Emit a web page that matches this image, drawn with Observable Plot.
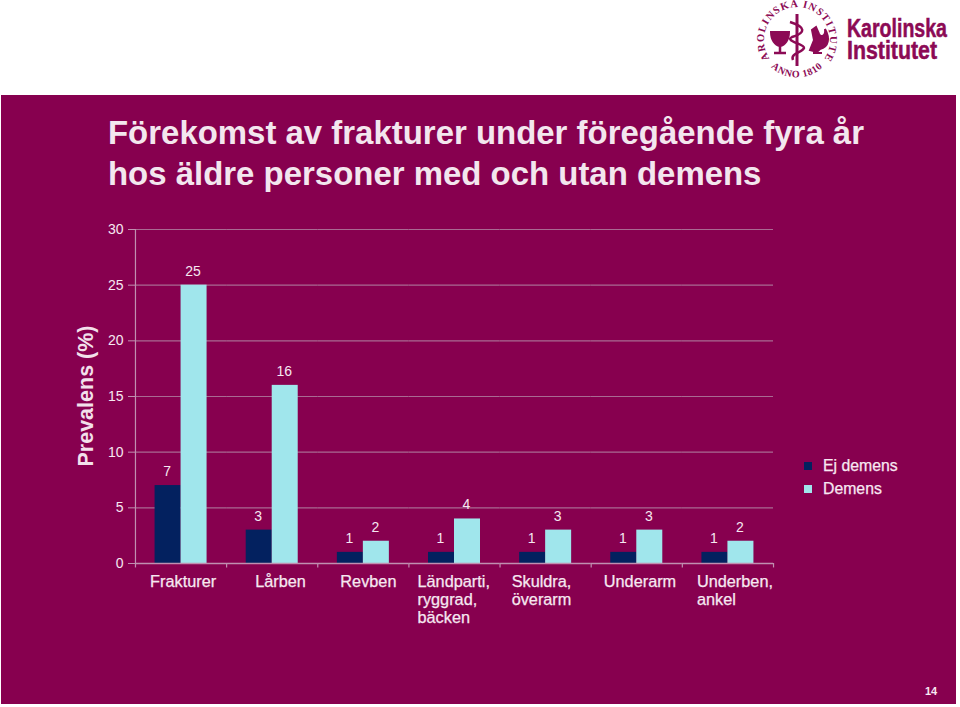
<!DOCTYPE html>
<html lang="sv">
<head>
<meta charset="utf-8">
<script src="https://cdn.jsdelivr.net/npm/d3@7"></script>
<script src="https://cdn.jsdelivr.net/npm/@observablehq/plot@0.6"></script>
<style>
  html, body { margin: 0; padding: 0; background: #fff; width: 960px; height: 707px; overflow: hidden; }
  body { position: relative; font-family: "Liberation Sans", Arial, sans-serif; }
  #panel { position: absolute; left: 1px; top: 95px; width: 955px; height: 609px; background: #87004f; }
  #chart { position: absolute; left: 0; top: 0; }
  #chart svg { background: transparent; display: block; }
  #title { position: absolute; left: 108px; top: 112px; margin: 0; font-size: 32.95px; line-height: 41px; font-weight: 700; color: #f3e6ee; white-space: nowrap; }
  #ylabel { position: absolute; left: 86px; top: 396px; transform: translate(-50%, -50%) rotate(-90deg); font-size: 21.5px; font-weight: 700; color: #f3e0eb; white-space: nowrap; }
  .lg { position: absolute; left: 804px; display: flex; align-items: center; font-size: 15.8px; color: #f8e8f2; -webkit-text-stroke: 0.25px #f8e8f2; }
  .lg i { display: block; width: 8px; height: 8px; margin-right: 11px; }
  #page { position: absolute; left: 925px; top: 685px; font-size: 11px; font-weight: 700; color: #f8e8f2; }
  #logo { position: absolute; left: 750px; top: 0; }
</style>
</head>
<body>
<div id="panel"></div>
<div id="chart"></div>
<h1 id="title">Förekomst av frakturer under föregående fyra år<br>hos äldre personer med och utan demens</h1>
<div id="ylabel">Prevalens (%)</div>
<div class="lg" style="top:457px"><i style="background:#03215f"></i>Ej demens</div>
<div class="lg" style="top:480px"><i style="background:#a0e6ec"></i>Demens</div>
<div id="page">14</div>
<svg id="logo" width="210" height="84" viewBox="750 0 210 84">
  <defs>
    <path id="topArc" d="M 772.4 62 A 33 33 0 1 1 821.6 62"/>
    <path id="botArc" d="M 770 66 A 37.5 37.5 0 0 0 824 66"/>
  </defs>
  <g fill="#8c0a55" font-family="Liberation Serif, serif" font-weight="700">
    <text font-size="10.5" letter-spacing="1.1"><textPath href="#topArc" startOffset="50%" text-anchor="middle">KAROLINSKA INSTITUTET</textPath></text>
    <text font-size="10" letter-spacing="0.6"><textPath href="#botArc" startOffset="50%" text-anchor="middle">ANNO 1810</textPath></text>
  </g>
  <g fill="none" stroke="#8c0a55" stroke-width="2">
    <path d="M797 14 V66" stroke-width="3"/>
    <path d="M790 22 C806 27 806 33 792 37 C784 41 805 44 804 48 C802 53 790 53 793 60" stroke-width="2.5"/>
    <path d="M771 32 H789 C789 40 785 45 780 46 C775 45 771 40 771 32 Z" fill="#8c0a55"/>
    <path d="M780 46 V53 M774 53 H786" stroke-width="2.5"/>
    <path d="M810 50 L814 40 L812 30 L816 27 L819 34 C821 38 826 36 825 29 C830 38 829 47 820 49 L817 52 Z" fill="#8c0a55"/>
    <path d="M813 53 H822" stroke-width="2"/>
  </g>
  <g fill="#8c0a55" stroke="#8c0a55" stroke-width="0.5" font-family="Liberation Sans, sans-serif" font-weight="700">
    <text x="847" y="37" font-size="25" textLength="100" lengthAdjust="spacingAndGlyphs">Karolinska</text>
    <text x="847" y="59" font-size="25" textLength="90" lengthAdjust="spacingAndGlyphs">Institutet</text>
  </g>
</svg>
<script>
const categories = ["Frakturer", "Lårben", "Revben", "Ländparti,\nryggrad,\nbäcken", "Skuldra,\növerarm", "Underarm", "Underben,\nankel"];
const seriesNames = ["Ej demens", "Demens"];
const ejDemens = [7, 3, 1, 1, 1, 1, 1];
const demens = [25, 16, 2, 4, 3, 3, 2];
const yTicks = [0, 5, 10, 15, 20, 25, 30];
const seriesColors = ["#03215f", "#a0e6ec"];

const rows = categories.flatMap((category, i) => [
  {category, series: seriesNames[0], value: ejDemens[i]},
  {category, series: seriesNames[1], value: demens[i]}
]);

const ink = "#f6e8f1";
const gridInk = "#a96a92";
const axisInk = "#c08fb0";
const edgeShift = -32.6;                // bar-centre to band-edge distance
const labelShift = [-18, -4, -10, -24, -21, -20, -18]; // left edge of each category label

const chart = Plot.plot({
  width: 960,
  height: 707,
  marginLeft: 135,
  marginRight: 187,
  marginTop: 229,
  marginBottom: 144,
  style: {background: "transparent", fontFamily: "'Liberation Sans', Arial, sans-serif"},
  fx: {domain: categories, padding: 0, round: false, axis: null},
  x: {domain: seriesNames, paddingInner: 0, paddingOuter: 0.7527, round: false, axis: null},
  y: {domain: [0, 30], axis: null},
  color: {domain: seriesNames, range: seriesColors},
  marks: [
    Plot.ruleY(yTicks.slice(1), {stroke: gridInk, strokeWidth: 1.2}),
    Plot.axisY({
      ticks: yTicks, tickSize: 7, tickPadding: 5, label: null, stroke: axisInk,
      color: ink, fontSize: 14, tickFormat: d => String(d)
    }),
    Plot.ruleX(categories, {
      fx: d => d, x: () => seriesNames[0], dx: edgeShift, y1: 0, y2: -0.4,
      stroke: axisInk, strokeWidth: 1.2
    }),
    Plot.ruleX(categories.slice(-1), {
      fx: d => d, x: () => seriesNames[1], dx: -edgeShift, y1: 0, y2: -0.4,
      stroke: axisInk, strokeWidth: 1.2
    }),
    Plot.ruleX(categories.slice(0, 1), {
      fx: d => d, x: () => seriesNames[0], dx: edgeShift, y1: 0, y2: 30,
      stroke: axisInk, strokeWidth: 1.2
    }),
    Plot.barY(rows, {fx: "category", x: "series", y: "value", fill: "series"}),
    Plot.ruleY([0], {stroke: axisInk, strokeWidth: 1.6}),
    Plot.text(rows, {
      fx: "category", x: "series", y: "value", text: d => String(d.value),
      dx: -1, dy: -14, fill: ink, fontSize: 14
    }),
    ...categories.map((c, i) => Plot.text([c], {
      fx: d => d, x: () => seriesNames[0], y: () => 0, text: d => d,
      textAnchor: "start", lineAnchor: "top", lineHeight: 1.13,
      dx: labelShift[i], dy: 10, fill: ink, fontSize: 16.3,
      stroke: ink, strokeWidth: 0.25
    }))
  ]
});
document.getElementById("chart").append(chart);
</script>
</body>
</html>
